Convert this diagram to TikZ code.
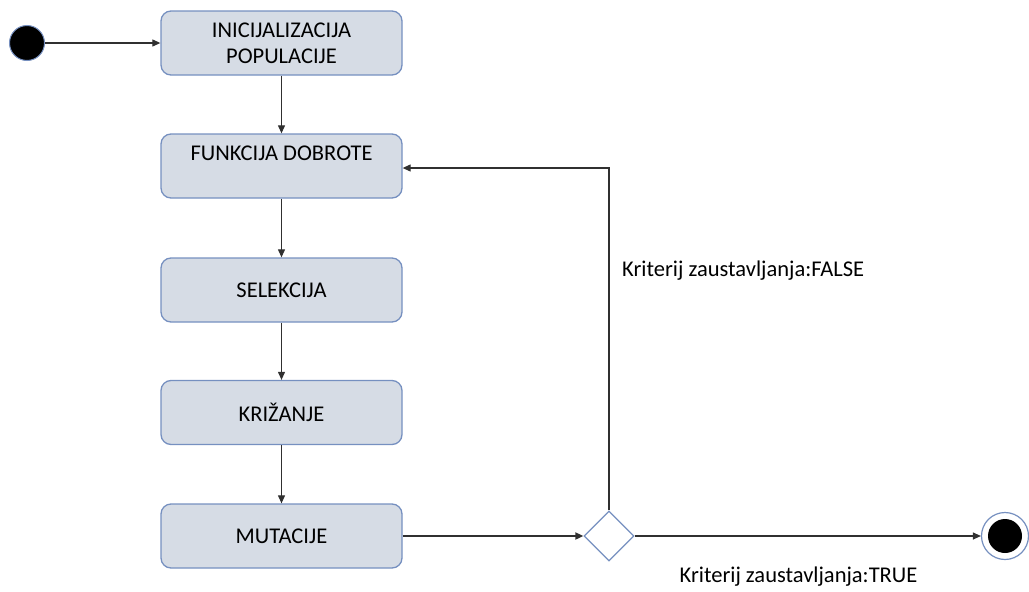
\documentclass[tikz,border=0pt]{standalone}
\usepackage{fontspec}
\setmainfont{Carlito}
\usetikzlibrary{shapes.geometric,arrows.meta}
\definecolor{boxfill}{HTML}{D6DCE5}
\definecolor{boxline}{HTML}{7690C0}
\definecolor{lineg}{HTML}{303030}
\tikzset{
  box/.style={draw=boxline, line width=1.3pt, fill=boxfill, rounded corners=10pt,
    minimum width=241pt, minimum height=64pt, align=center, inner sep=0pt,
    font=\fontsize{22.5}{26}\selectfont},
  lbl/.style={font=\fontsize{22.5}{26}\selectfont, inner sep=0pt},
  conn/.style={draw=lineg, line width=1.1pt, -{Triangle[length=8pt,width=7pt]}},
}
\begin{document}
\begin{tikzpicture}[x=1pt,y=-1pt]
\useasboundingbox (0,0) rectangle (1029,592);
\node[circle, fill=black, draw=boxline, line width=1pt, minimum size=35pt, inner sep=0pt] (start) at (27,43) {};
\node[box] (b1) at (281.5,43) {INICIJALIZACIJA\\POPULACIJE};
\node[box] (b2) at (281.5,166) {FUNKCIJA DOBROTE\\\mbox{}};
\node[box] (b3) at (281.5,290) {SELEKCIJA};
\node[box] (b4) at (281.5,412.5) {KRIŽANJE};
\node[box] (b5) at (281.5,536) {MUTACIJE};
\node[diamond, draw=boxline, line width=1.3pt, fill=white, minimum width=50pt, minimum height=50pt, inner sep=0pt] (dec) at (609,536) {};
\node[circle, draw=boxline, line width=1.2pt, fill=white, minimum size=47pt, inner sep=0pt] (endo) at (1005,536) {};
\node[circle, fill=black, minimum size=34pt, inner sep=0pt] (endi) at (1005,536) {};
\coordinate (corner) at (609,168);
\node[lbl, anchor=west] (lf) at (622,271) {Kriterij zaustavljanja:FALSE};
\node[lbl] (lt) at (798.5,577) {Kriterij zaustavljanja:TRUE};
\draw[conn] (start) -- (b1);
\draw[conn] (b1) -- (b2);
\draw[conn] (b2) -- (b3);
\draw[conn] (b3) -- (b4);
\draw[conn] (b4) -- (b5);
\draw[conn, line width=1.8pt] (b5) -- (dec);
\draw[conn] (dec) -- (endo);
\draw[conn] (dec.north) -- (corner) -- (b2.east |- corner);
\end{tikzpicture}
\end{document}
